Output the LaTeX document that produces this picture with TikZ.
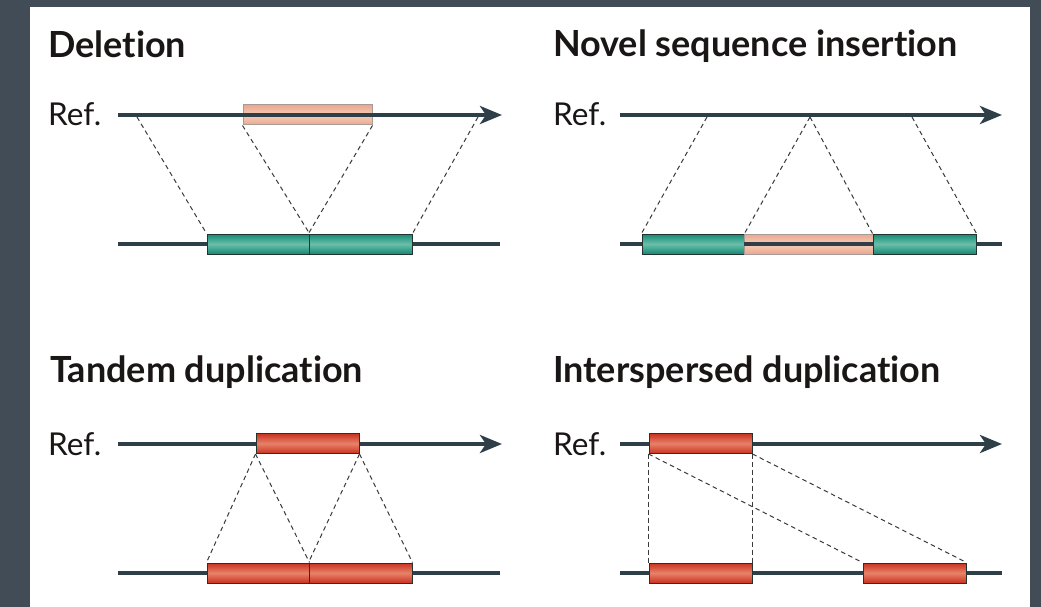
\documentclass[tikz,border=0pt]{standalone}
\usepackage{fontspec}
\setmainfont[Ligatures=NoCommon]{Lato}
\usetikzlibrary{arrows.meta}
\definecolor{bgc}{HTML}{424C56}
\definecolor{linec}{HTML}{2E3F47}
\definecolor{dashc}{HTML}{3A3A3A}
\definecolor{edgec}{HTML}{23332F}
\definecolor{tealA}{HTML}{138A74}
\definecolor{tealB}{HTML}{6BBEAA}
\definecolor{redA}{HTML}{C8321F}
\definecolor{redB}{HTML}{E8826A}
\definecolor{pinkA}{HTML}{EBA78E}
\definecolor{pinkB}{HTML}{F6CDBA}
\definecolor{pinkedge}{HTML}{A89A96}
\definecolor{titlec}{HTML}{1A1616}
\tikzset{
  title/.style={anchor=base west, inner sep=0pt, text=titlec, font=\fontsize{36}{40}\selectfont\bfseries},
  reflabel/.style={anchor=base west, inner sep=0pt, text=titlec, font=\fontsize{31.5}{34}\selectfont},
  dna/.style={line width=4pt, draw=linec},
  refarrow/.style={dna, -{Stealth[length=22pt,width=18pt,inset=6pt]}},
  map/.style={draw=dashc, line width=1pt, dash pattern=on 4.5pt off 3.5pt},
  seg/.style={draw=edgec, line width=1pt, minimum height=20pt, inner sep=0pt, shading=axis, shading angle=0},
  tealbox/.style={seg, top color=tealA, bottom color=tealA, middle color=tealB},
  redbox/.style={seg, top color=redA, bottom color=redA, middle color=redB},
  pinkbox/.style={seg, draw=pinkedge, top color=pinkA, bottom color=pinkA, middle color=pinkB},
}
\begin{document}
\begin{tikzpicture}[x=1pt,y=-1pt]
\fill[bgc] (0,0) rectangle (1041,607);
\fill[white] (30,7) rectangle (1030,607);
\useasboundingbox (0,0) rectangle (1041,607);

% ---------- Deletion ----------
\node[title] (t1) at (48,58) {Deletion};
\node[reflabel] (r1) at (48,126) {Ref.};
\node[pinkbox, minimum width=129pt] (dp) at (307.5,115) {};
\coordinate (d1s) at (118,115); \coordinate (d1e) at (502,115);
\draw[refarrow] (d1s) -- (d1e);
\coordinate (d2s) at (118,244); \coordinate (d2e) at (500,244);
\draw[dna] (d2s) -- (d2e);
\node[tealbox, minimum width=102pt] (da) at (258,244) {};
\node[tealbox, minimum width=103pt] (db) at (360.5,244) {};
\coordinate (dl) at (137,117); \coordinate (dr) at (478,117);
\draw[map] (dl) -- (da.north west);
\draw[map] (dp.south west) -- (da.north east);
\draw[map] (dp.south east) -- (db.north west);
\draw[map] (dr) -- (db.north east);

% ---------- Novel sequence insertion ----------
\node[title] (t2) at (553,57) {Novel sequence insertion};
\node[reflabel] (r2) at (553,126) {Ref.};
\coordinate (n1s) at (620,115); \coordinate (n1e) at (1002,115);
\draw[refarrow] (n1s) -- (n1e);
\coordinate (n2s) at (620,244); \coordinate (n2e) at (1002,244);
\draw[dna] (n2s) -- (n2e);
\node[tealbox, minimum width=102pt] (na) at (693,244) {};
\node[pinkbox, minimum width=129pt] (np) at (808.5,244) {};
\node[tealbox, minimum width=103pt] (nb) at (924.5,244) {};
\coordinate (npl) at (744,244); \coordinate (npr) at (873,244);
\draw[dna] (npl) -- (npr);
\coordinate (nl) at (707,117); \coordinate (nm) at (810,117); \coordinate (nr) at (912,117);
\draw[map] (nl) -- (na.north west);
\draw[map] (nm) -- (na.north east);
\draw[map] (nm) -- (nb.north west);
\draw[map] (nr) -- (nb.north east);

% ---------- Tandem duplication ----------
\node[title] (t3) at (50,382) {Tandem duplication};
\node[reflabel] (r3) at (48,455) {Ref.};
\coordinate (t1s) at (118,444); \coordinate (t1e) at (502,444);
\draw[refarrow] (t1s) -- (t1e);
\coordinate (t2s) at (118,573); \coordinate (t2e) at (500,573);
\draw[dna] (t2s) -- (t2e);
\node[redbox, minimum width=103pt] (tr) at (307.5,443.5) {};
\node[redbox, minimum width=102pt] (ta) at (258,573) {};
\node[redbox, minimum width=103pt] (tb) at (360.5,573) {};
\draw[map] (tr.south west) -- (ta.north west);
\draw[map] (tr.south west) -- (ta.north east);
\draw[map] (tr.south east) -- (tb.north west);
\draw[map] (tr.south east) -- (tb.north east);

% ---------- Interspersed duplication ----------
\node[title] (t4) at (553,382) {Interspersed duplication};
\node[reflabel] (r4) at (553,455) {Ref.};
\coordinate (i1s) at (620,444); \coordinate (i1e) at (1002,444);
\draw[refarrow] (i1s) -- (i1e);
\coordinate (i2s) at (620,573); \coordinate (i2e) at (1002,573);
\draw[dna] (i2s) -- (i2e);
\node[redbox, minimum width=103pt] (ir) at (700.5,443.5) {};
\node[redbox, minimum width=103pt] (ia) at (700.5,573) {};
\node[redbox, minimum width=103pt] (ib) at (914.5,573) {};
\draw[map] (ir.south west) -- (ia.north west);
\draw[map] (ir.south east) -- (ia.north east);
\draw[map] (ir.south west) -- (ib.north west);
\draw[map] (ir.south east) -- (ib.north east);
\end{tikzpicture}
\end{document}
